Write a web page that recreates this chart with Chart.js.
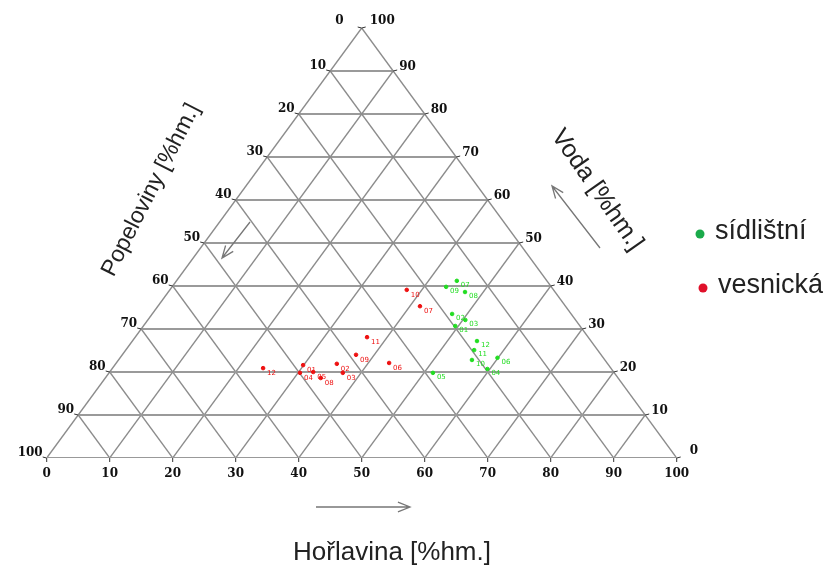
<!DOCTYPE html>
<html>
<head>
<meta charset="utf-8">
<script src="https://cdn.jsdelivr.net/npm/chart.js@4.4.1/dist/chart.umd.min.js"></script>
<style>
  html, body { margin: 0; padding: 0; background: #fff; }
  #wrap { width: 831px; height: 569px; position: relative; }
</style>
</head>
<body>
<div id="wrap"><canvas id="c" width="831" height="569"></canvas></div>
<script>
// Ternary composition: Hořlavina (bottom), Voda (right), Popeloviny = 100 - H - V (left)
const tickValues = [0, 10, 20, 30, 40, 50, 60, 70, 80, 90, 100];

const sidlistniLabels    = ['01', '02', '03', '04', '05', '06', '07', '08', '09', '10', '11', '12'];
const sidlistniHorlavina = [49.5, 47.6, 50.4, 59.6, 51.4, 59.9, 44.5, 47.1, 43.5, 56.1, 55.3, 54.7];
const sidlistniVoda      = [30.7, 33.5, 32.1, 20.7, 19.8, 23.3, 41.2, 38.6, 39.8, 22.8, 25.1, 27.2];

const vesnickaLabels    = ['01', '02', '03', '04', '05', '06', '07', '08', '09', '10', '11', '12'];
const vesnickaHorlavina = [29.9, 35.1, 37.1, 30.3, 32.3, 43.3, 41.6, 34.2, 37.1, 37.6, 36.8, 23.9];
const vesnickaVoda      = [21.6, 21.9, 19.8, 19.8, 20.0, 22.1, 35.3, 18.6, 24.0, 39.1, 28.1, 20.9];

const legendNames = ['sídlištní', 'vesnická'];

// Ternary -> plane: x runs along the base, y is the Voda height
function toXY(h, v) { return { x: h + v / 2, y: v }; }

const GRID = '#8c8c8c';
const gridSets = [];
function seg(a, b, color, width) {
  gridSets.push({
    type: 'line', data: [a, b], borderColor: color, borderWidth: width,
    pointRadius: 0, fill: false, tension: 0, order: 10
  });
}
// outline
seg(toXY(0, 0), toXY(100, 0), '#999', 2.2);
seg(toXY(0, 0), toXY(0, 100), GRID, 1.4);
seg(toXY(100, 0), toXY(0, 100), GRID, 1.4);
tickValues.slice(1, -1).forEach(k => {
  // constant Voda (horizontal)
  seg(toXY(0, k), toXY(100 - k, k), '#9a9a9a', 2);
  // constant Hořlavina (parallel to left side)
  seg(toXY(k, 0), toXY(k, 100 - k), GRID, 1.3);
  // constant Popeloviny (parallel to right side)
  seg(toXY(100 - k, 0), toXY(0, 100 - k), GRID, 1.3);
});

const gPts = sidlistniHorlavina.map((h, i) => toXY(h, sidlistniVoda[i]));
const rPts = vesnickaHorlavina.map((h, i) => toXY(h, vesnickaVoda[i]));

const ternaryText = {
  id: 'ternaryText',
  afterDatasetsDraw(chart) {
    const ctx = chart.ctx;
    const sx = chart.scales.x, sy = chart.scales.y;
    const P = (p) => [sx.getPixelForValue(p.x), sy.getPixelForValue(p.y)];
    ctx.save();
    ctx.fillStyle = '#111';
    ctx.strokeStyle = '#333';
    ctx.lineWidth = 1;
    ctx.font = 'bold 12px "DejaVu Serif"';
    // bottom scale: Hořlavina
    ctx.textAlign = 'center'; ctx.textBaseline = 'middle';
    tickValues.forEach(h => {
      const [x, y] = P(toXY(h, 0));
      ctx.beginPath(); ctx.moveTo(x, y); ctx.lineTo(x, y + 4); ctx.stroke();
      ctx.fillText(String(h), x, y + 16);
    });
    // left scale: Popeloviny (0 at apex, 100 at base)
    tickValues.forEach(p => {
      const v = 100 - p;
      const [x, y] = P(toXY(0, v));
      ctx.beginPath(); ctx.moveTo(x, y); ctx.lineTo(x - 4, y - 1); ctx.stroke();
      ctx.textAlign = 'right';
      if (p === 0) ctx.fillText('0', x - 18, y - 7);
      else ctx.fillText(String(p), x - 4, y - 5);
    });
    // right scale: Voda (0 at base, 100 at apex)
    tickValues.forEach(v => {
      const [x, y] = P(toXY(100 - v, v));
      ctx.beginPath(); ctx.moveTo(x, y); ctx.lineTo(x + 4, y - 1); ctx.stroke();
      ctx.textAlign = 'left';
      if (v === 100) ctx.fillText('100', x + 8, y - 7);
      else if (v === 0) ctx.fillText('0', x + 13, y - 7);
      else ctx.fillText(String(v), x + 6, y - 4);
    });

    // point labels
    ctx.font = '7px "DejaVu Sans"';
    ctx.textAlign = 'left'; ctx.textBaseline = 'middle';
    ctx.fillStyle = '#22dd22';
    gPts.forEach((p, i) => { const [x, y] = P(p); ctx.fillText(sidlistniLabels[i], x + 4, y + 4); });
    ctx.fillStyle = '#ee1111';
    rPts.forEach((p, i) => { const [x, y] = P(p); ctx.fillText(vesnickaLabels[i], x + 4, y + 5); });

    // side titles
    ctx.fillStyle = '#222';
    ctx.font = '23px "Liberation Sans"';
    ctx.textAlign = 'center';
    ctx.save(); ctx.translate(151, 190); ctx.rotate(-63 * Math.PI / 180); ctx.fillText('Popeloviny [%hm.]', 0, 0); ctx.restore();
    ctx.font = '25px "Liberation Sans"';
    ctx.save(); ctx.translate(597, 190); ctx.rotate(55 * Math.PI / 180); ctx.fillText('Voda [%hm.]', 0, 0); ctx.restore();
    ctx.font = '26px "Liberation Sans"';
    ctx.fillText('Hořlavina [%hm.]', 392, 553);

    // direction arrows
    ctx.strokeStyle = '#777'; ctx.lineWidth = 1.3;
    function arrow(x1, y1, x2, y2) {
      const a = Math.atan2(y2 - y1, x2 - x1), L = 13, w = 0.38;
      ctx.beginPath(); ctx.moveTo(x1, y1); ctx.lineTo(x2, y2);
      ctx.moveTo(x2 - L * Math.cos(a - w), y2 - L * Math.sin(a - w));
      ctx.lineTo(x2, y2);
      ctx.lineTo(x2 - L * Math.cos(a + w), y2 - L * Math.sin(a + w));
      ctx.stroke();
    }
    arrow(316, 507, 410, 507);
    arrow(250, 222, 222, 258);
    arrow(600, 248, 552, 186);

    // legend
    ctx.font = '27px "Liberation Sans"';
    ctx.textAlign = 'left'; ctx.textBaseline = 'middle';
    const lg = [['#1aaa4a', 700, 234], ['#e0102a', 703, 288]];
    lg.forEach((l, i) => {
      ctx.fillStyle = l[0];
      ctx.beginPath(); ctx.arc(l[1], l[2], 4.5, 0, Math.PI * 2); ctx.fill();
      ctx.fillStyle = '#222';
      ctx.fillText(legendNames[i], l[1] + 15, l[2] - 2);
    });
    ctx.restore();
  }
};

new Chart(document.getElementById('c'), {
  type: 'scatter',
  data: {
    datasets: [
      ...gridSets,
      { label: legendNames[0], data: gPts, backgroundColor: '#22dd22', borderColor: '#22dd22',
        pointRadius: 1.8, pointHoverRadius: 1.8, order: 1 },
      { label: legendNames[1], data: rPts, backgroundColor: '#ee1111', borderColor: '#ee1111',
        pointRadius: 1.8, pointHoverRadius: 1.8, order: 1 }
    ]
  },
  options: {
    responsive: false,
    animation: false,
    events: [],
    layout: { padding: { left: 46.7, right: 154.3, top: 28, bottom: 111 } },
    plugins: { legend: { display: false }, tooltip: { enabled: false } },
    scales: {
      x: { type: 'linear', min: 0, max: 100, display: false },
      y: { type: 'linear', min: 0, max: 100, display: false }
    }
  },
  plugins: [ternaryText]
});
</script>
</body>
</html>
